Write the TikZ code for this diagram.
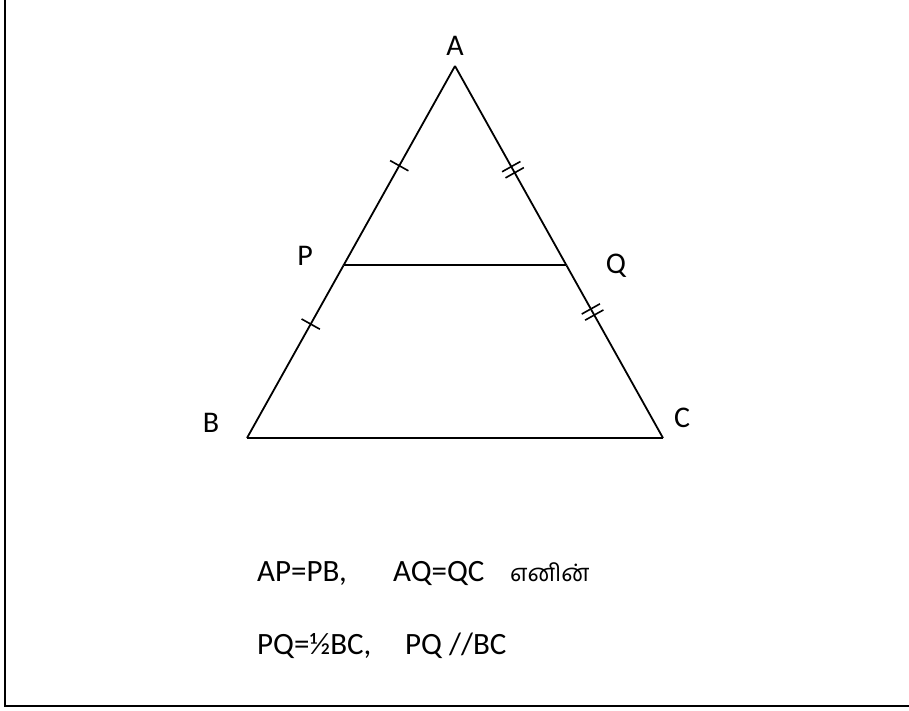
\documentclass[tikz,border=0pt]{standalone}
\usepackage{fontspec}
\setmainfont{Carlito}
\newfontfamily\tamilfont[Script=Tamil]{Hind Madurai}
\usetikzlibrary{calc, decorations.markings}
\tikzset{
	side/.style={draw, line width=1.8pt},
	vlabel/.style={font=\fontsize{30}{36}\selectfont, inner sep=0pt},
	textline/.style={font=\fontsize{31}{37}\selectfont, inner sep=0pt, anchor=base west},
	onetick/.style={postaction={decorate, decoration={markings,
		mark=at position #1 with {\draw[line width=1.6pt] (0pt,-10.5pt) -- (0pt,10.5pt);}}}},
	twotick/.style={postaction={decorate, decoration={markings,
		mark=at position #1 with {\draw[line width=1.6pt] (-3.5pt,-10.5pt) -- (-3.5pt,10.5pt)
			(3.5pt,-10.5pt) -- (3.5pt,10.5pt);}}}}
}
\begin{document}
\begin{tikzpicture}[x=1pt,y=-1pt]
	\useasboundingbox (0,0) rectangle (909,710);
	% frame
	\coordinate (F-top) at (5,0);
	\coordinate (F-corner) at (5,706);
	\coordinate (F-right) at (909,706);
	\draw[line width=2.2pt] (F-top) -- (F-corner) -- (F-right);
	
	% Vertices
	\coordinate (A) at (455,66);
	\coordinate (B) at (247,438);
	\coordinate (C) at (663,438);
	\coordinate (P) at ($(A)!0.536!(B)$);
	\coordinate (Q) at ($(A)!0.536!(C)$);
	
	% Sides
	\draw[side, onetick=0.5] (A) -- (P);
	\draw[side, onetick=0.34] (P) -- (B);
	\draw[side, twotick=0.52] (A) -- (Q);
	\draw[side, twotick=0.27] (Q) -- (C);
	\draw[side] (B) -- (C);
	\draw[side] (P) -- (Q);
	
	% Labels
	\node[vlabel] (lA) at (455,46) {A};
	\node[vlabel] (lP) at (305,256) {P};
	\node[vlabel] (lQ) at (616,266) {Q};
	\node[vlabel] (lB) at (211,423) {B};
	\node[vlabel] (lC) at (682,418) {C};
	
	% Statement
	\node[textline] (t1) at (257,581) {AP=PB,};
	\node[textline] (t2) at (393,581) {AQ=QC};
	\node[textline] (t3) at (510,581) {\fontsize{24}{28}\selectfont\tamilfont எனின்};
	\node[textline] (t4) at (257,654) {PQ=½BC,};
	\node[textline] (t5) at (405,654) {PQ //BC};
\end{tikzpicture}
\end{document}
